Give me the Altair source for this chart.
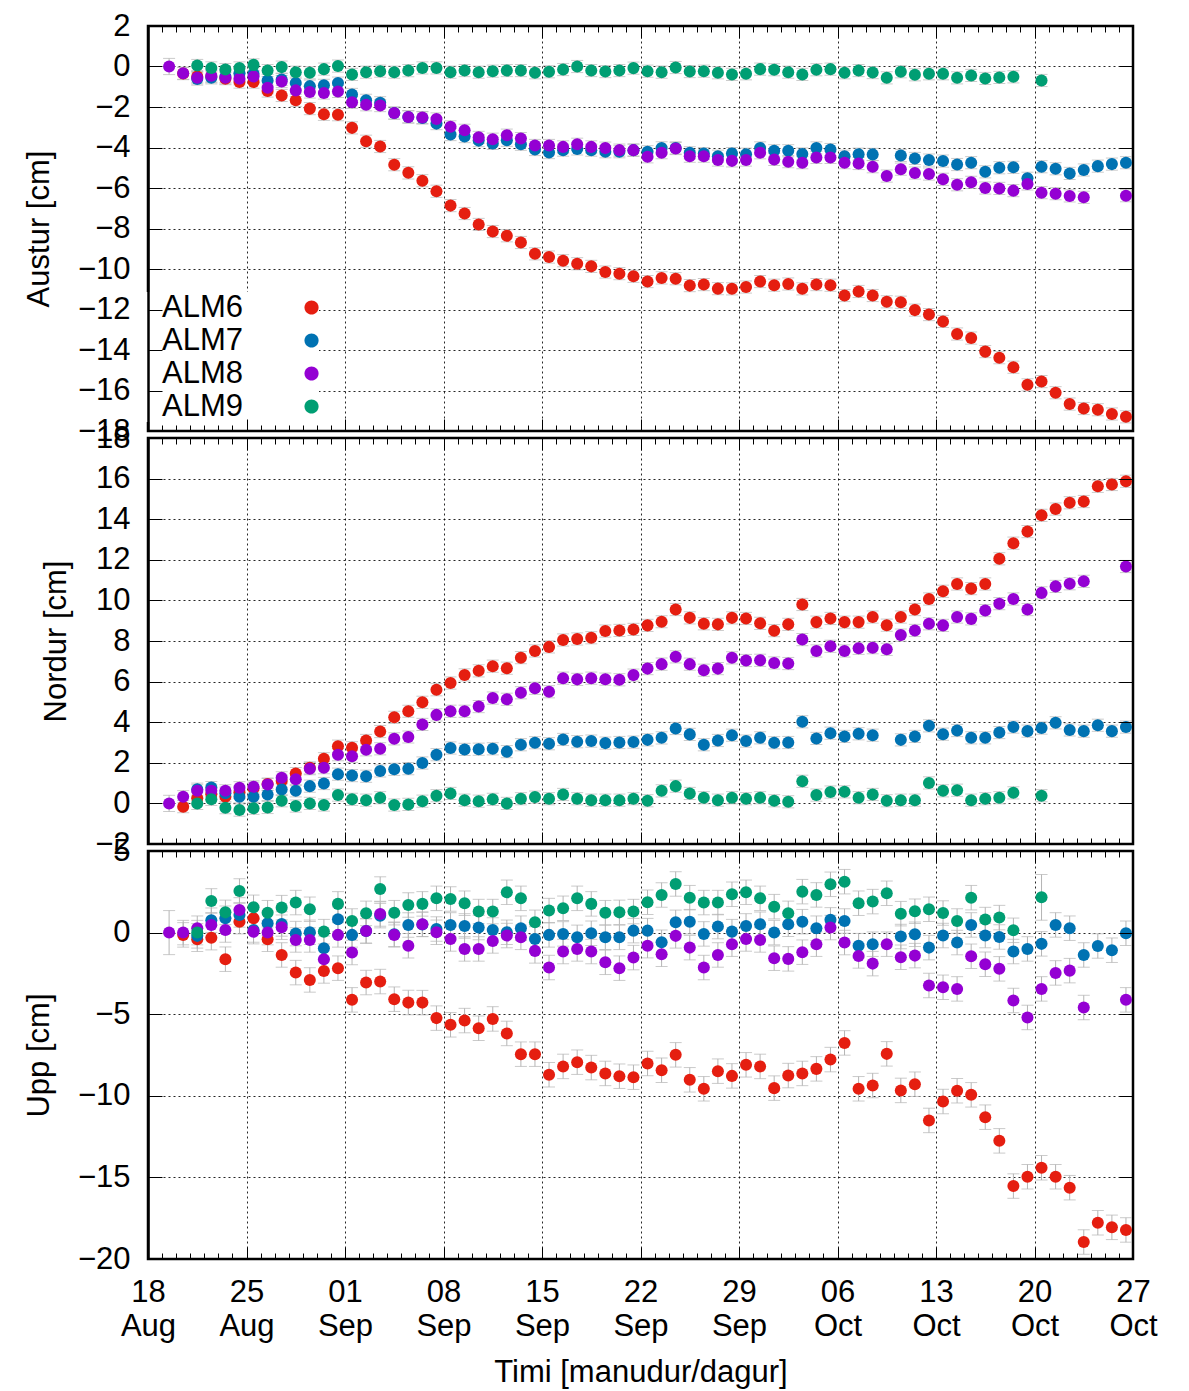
import altair as alt
import pandas as pd

# ---------------- data ----------------
YEAR = 2021
DAYS = [d.strftime("%Y-%m-%dT%H:%M:%SZ")
        for d in pd.date_range("2021-08-19 12:00", periods=69, freq="D")]

STATIONS = ["ALM6", "ALM7", "ALM8", "ALM9"]
COLORS = ["#e51e10", "#0072b2", "#9400d3", "#009e73"]
N = None

# Austur (east) [cm]
ALM6_EAST = [N, -0.35, -0.5, -0.5, -0.6, -0.77, -0.77, -1.21, -1.43, -1.67, -2.08, -2.36, -2.38, -3.03,
             -3.69, -3.95, -4.85, -5.25, -5.64, -6.16, -6.87, -7.26, -7.8, -8.15, -8.36, -8.69, -9.25,
             -9.41, -9.59, -9.74, -9.87, -10.15, -10.23, -10.36, -10.62, -10.44, -10.48, -10.82, -10.77,
             -10.97, -10.98, -10.89, -10.62, -10.8, -10.74, -10.98, -10.77, -10.8, -11.31, -11.11, -11.31,
             -11.62, -11.64, -12.03, -12.25, -12.59, -13.21, -13.41, -14.08, -14.38, -14.85, -15.72,
             -15.56, -16.11, -16.67, -16.89, -16.95, -17.16, -17.3]
ALM7_EAST = [N, N, -0.62, -0.56, -0.5, -0.33, -0.36, -0.69, -0.64, -0.82, -0.97, -0.93, -0.82, -1.38,
             -1.67, -1.79, -2.3, -2.49, -2.54, -2.82, -3.36, -3.46, -3.66, -3.8, -3.64, -3.84, -4.1,
             -4.25, -4.13, -4.07, -4.13, -4.21, -4.21, -4.13, -4.21, -4.02, -4.02, -4.26, -4.3, -4.43,
             -4.3, -4.33, -4.02, -4.16, -4.16, -4.32, -4.02, -4.1, -4.43, -4.33, -4.34, N, -4.39, -4.54,
             -4.62, -4.67, -4.84, -4.75, -5.2, -5.0, -4.98, -5.52, -4.95, -5.05, -5.28, -5.11, -4.92,
             -4.82, -4.75]
ALM8_EAST = [0.0, -0.33, -0.56, -0.46, -0.56, -0.61, -0.49, -1.05, -0.74, -1.18, -1.26, -1.31, -1.23,
             -1.77, -1.89, -1.93, -2.3, -2.49, -2.52, -2.59, -2.98, -3.15, -3.5, -3.59, -3.39, -3.56,
             -3.9, -3.9, -3.97, -3.84, -3.97, -4.03, -4.13, -4.13, -4.46, -4.26, -4.05, -4.43, -4.43,
             -4.62, -4.66, -4.62, -4.26, -4.59, -4.7, -4.75, -4.49, -4.49, -4.75, -4.79, -4.95, -5.41,
             -5.07, -5.26, -5.31, -5.57, -5.84, -5.72, -6.0, -6.02, -6.13, -5.8, -6.23, -6.28, -6.39,
             -6.46, N, N, -6.38]
ALM9_EAST = [N, N, 0.05, -0.07, -0.15, -0.07, 0.08, -0.2, -0.03, -0.28, -0.31, -0.13, 0.02, -0.39,
             -0.28, -0.23, -0.28, -0.2, -0.07, -0.07, -0.28, -0.2, -0.28, -0.23, -0.2, -0.2, -0.31,
             -0.26, -0.15, 0.0, -0.2, -0.25, -0.2, -0.08, -0.23, -0.28, -0.05, -0.25, -0.23, -0.31,
             -0.39, -0.36, -0.13, -0.16, -0.28, -0.39, -0.16, -0.13, -0.31, -0.2, -0.3, -0.56, -0.26,
             -0.41, -0.36, -0.36, -0.56, -0.44, -0.59, -0.54, -0.51, N, -0.69, N, N, N, N, N, N]

# Nordur (north) [cm]
ALM6_NORTH = [N, -0.16, 0.25, 0.45, 0.33, 0.55, 0.75, 0.95, 1.1, 1.47, 1.75, 2.2, 2.82, 2.74, 3.1,
              3.54, 4.24, 4.54, 4.98, 5.6, 5.93, 6.33, 6.53, 6.76, 6.66, 7.18, 7.51, 7.71, 8.05, 8.1,
              8.16, 8.49, 8.52, 8.57, 8.77, 8.95, 9.55, 9.14, 8.85, 8.82, 9.14, 9.11, 8.87, 8.51, 8.82,
              9.8, 8.93, 9.11, 8.93, 8.93, 9.18, 8.78, 9.18, 9.55, 10.07, 10.45, 10.81, 10.58, 10.81,
              12.05, 12.82, 13.39, 14.19, 14.5, 14.81, 14.87, 15.62, 15.71, 15.87]
ALM7_NORTH = [N, N, 0.7, 0.78, 0.5, 0.33, 0.33, 0.44, 0.69, 0.62, 0.85, 0.98, 1.44, 1.37, 1.34, 1.6,
              1.68, 1.71, 1.99, 2.4, 2.73, 2.66, 2.67, 2.69, 2.55, 2.89, 2.99, 2.94, 3.15, 3.04, 3.07,
              2.97, 3.0, 3.02, 3.13, 3.23, 3.69, 3.4, 2.89, 3.1, 3.36, 3.07, 3.23, 2.99, 3.0, 4.02, 3.2,
              3.46, 3.3, 3.43, 3.36, N, 3.13, 3.3, 3.82, 3.41, 3.59, 3.23, 3.23, 3.49, 3.76, 3.56, 3.71,
              3.97, 3.62, 3.56, 3.85, 3.56, 3.76]
ALM8_NORTH = [0.0, 0.33, 0.62, 0.62, 0.62, 0.77, 0.82, 0.93, 1.26, 1.19, 1.71, 1.76, 2.4, 2.32, 2.64,
              2.69, 3.18, 3.27, 3.89, 4.36, 4.54, 4.54, 4.77, 5.19, 5.13, 5.45, 5.67, 5.5, 6.17, 6.11,
              6.17, 6.12, 6.09, 6.32, 6.64, 6.86, 7.22, 6.86, 6.56, 6.64, 7.17, 7.04, 7.05, 6.92, 6.89,
              8.07, 7.51, 7.74, 7.51, 7.64, 7.67, 7.59, 8.29, 8.52, 8.85, 8.77, 9.18, 9.09, 9.5, 9.84,
              10.07, 9.55, 10.37, 10.69, 10.82, 10.94, N, N, 11.67]
ALM9_NORTH = [N, N, 0.0, 0.2, -0.21, -0.33, -0.24, -0.2, 0.13, -0.13, 0.0, -0.08, 0.41, 0.2, 0.16,
              0.28, -0.08, -0.05, 0.11, 0.38, 0.49, 0.16, 0.11, 0.2, 0.0, 0.23, 0.31, 0.23, 0.44, 0.23,
              0.16, 0.16, 0.16, 0.23, 0.13, 0.62, 0.85, 0.49, 0.28, 0.16, 0.28, 0.23, 0.28, 0.13, 0.08,
              1.09, 0.41, 0.56, 0.57, 0.28, 0.44, 0.13, 0.16, 0.16, 1.01, 0.62, 0.65, 0.16, 0.23, 0.28,
              0.52, N, 0.38, N, N, N, N, N, N]

# Upp (up) [cm]
ALM6_UP = [N, -0.14, -0.41, -0.31, -1.63, 0.67, 0.88, -0.41, -1.37, -2.45, -2.9, -2.35, -2.18, -4.12,
           -3.06, -3.0, -4.08, -4.29, -4.29, -5.24, -5.65, -5.39, -5.86, -5.29, -6.18, -7.45, -7.45,
           -8.71, -8.2, -7.94, -8.27, -8.63, -8.8, -8.86, -8.02, -8.43, -7.49, -9.02, -9.57, -8.49,
           -8.78, -8.1, -8.2, -9.53, -8.76, -8.63, -8.35, -7.78, -6.76, -9.57, -9.37, -7.43, -9.67,
           -9.29, -11.51, -10.35, -9.69, -9.94, -11.31, -12.76, -15.53, -14.96, -14.41, -14.96,
           -15.63, -18.96, -17.78, -18.06, -18.22]
ALM7_UP = [N, N, -0.2, 0.76, 0.88, 1.08, 0.16, 0.57, 0.53, -0.06, 0.02, -0.96, 0.82, -0.14, 0.1, 1.04,
           -0.1, 0.47, 0.5, 0.22, 0.47, 0.41, 0.31, 0.16, 0.02, 0.27, -0.39, -0.14, -0.08, -0.29, -0.04,
           -0.29, -0.29, 0.12, 0.12, -0.59, 0.63, 0.67, -0.08, 0.37, 0.06, 0.41, 0.51, 0.0, 0.51, 0.67,
           0.27, 0.78, 0.71, -0.8, -0.71, N, -0.24, -0.1, -0.92, -0.18, -0.61, 0.47, -0.18, -0.27,
           -1.16, -1.0, -0.69, 0.47, 0.27, -1.37, -0.82, -1.08, -0.04]
ALM8_UP = [0.0, 0.0, 0.27, 0.47, 0.16, 1.39, 0.06, 0.0, 0.33, -0.45, -0.45, -1.63, -0.14, -1.22, 0.1,
           1.14, -0.14, -0.8, 0.51, 0.02, -0.39, -1.0, -1.0, -0.51, -0.18, -0.29, -1.12, -2.14, -1.16,
           -1.0, -1.16, -1.82, -2.18, -1.53, -0.8, -1.33, -0.2, -0.92, -2.14, -1.37, -0.71, -0.39,
           -0.45, -1.57, -1.61, -1.2, -0.71, 0.31, -0.61, -1.43, -1.9, -0.71, -1.51, -1.41, -3.24,
           -3.35, -3.45, -1.45, -1.94, -2.22, -4.16, -5.2, -3.45, -2.47, -2.33, -4.59, N, N, -4.12]
ALM9_UP = [N, N, 0.0, 1.94, 1.24, 2.55, 1.55, 1.22, 1.53, 1.84, 1.43, 0.06, 1.76, 0.71, 1.18, 2.67,
           1.22, 1.69, 1.76, 2.1, 2.06, 1.8, 1.29, 1.29, 2.47, 2.1, 0.63, 1.35, 1.49, 2.1, 1.76, 1.22,
           1.24, 1.29, 1.86, 2.31, 2.98, 2.14, 1.84, 1.84, 2.35, 2.47, 2.1, 1.59, 1.18, 2.51, 2.31,
           2.96, 3.12, 1.8, 1.9, 2.41, 1.16, 1.31, 1.43, 1.2, 0.71, 2.14, 0.8, 0.92, 0.14, N, 2.16,
           N, N, N, N, N, N]

# one-sigma error estimates [cm]
ERR_EAST = 0.3
ERR_NORTH = 0.3
ERR_UP = 0.75
ERR_EXTRA_EAST = {("ALM8", 0): 0.4}
ERR_EXTRA_NORTH = {("ALM8", 0): 0.4}
ERR_EXTRA_UP = {("ALM8", 0): 1.35, ("ALM9", 62): 1.4}


def long_frame(series, err, extra):
    rows = []
    for st, vals in zip(STATIONS, series):
        for i, (d, v) in enumerate(zip(DAYS, vals)):
            if v is None:
                continue
            e = extra.get((st, i), err)
            rows.append({"date": d, "station": st, "value": v, "lo": v - e, "hi": v + e})
    return pd.DataFrame(rows)


df_e = long_frame([ALM6_EAST, ALM7_EAST, ALM8_EAST, ALM9_EAST], ERR_EAST, ERR_EXTRA_EAST)
df_n = long_frame([ALM6_NORTH, ALM7_NORTH, ALM8_NORTH, ALM9_NORTH], ERR_NORTH, ERR_EXTRA_NORTH)
df_u = long_frame([ALM6_UP, ALM7_UP, ALM8_UP, ALM9_UP], ERR_UP, ERR_EXTRA_UP)

# ---------------- style ----------------
FONT = "Liberation Sans"
FS = 31
W = 985
GRID_DASH = [2, 3]
ERR_COLOR = "#b4b4b4"
# legend marker: a circle drawn to the right of its label (unit coords, scaled by the symbol size)
LEGEND_SYMBOL = "M 25.8,0 A 1.15,1.15 0 1,0 28.1,0 A 1.15,1.15 0 1,0 25.8,0 Z"


def dt(m, d):
    return alt.DateTime(year=YEAR, month=m, date=d, utc=True)


MAJOR = [dt(8, 18), dt(8, 25), dt(9, 1), dt(9, 8), dt(9, 15), dt(9, 22), dt(9, 29),
         dt(10, 6), dt(10, 13), dt(10, 20), dt(10, 27)]
MINOR = [dt(d.month, d.day) for d in pd.date_range("2021-08-18", "2021-10-27", freq="D")]
X_SCALE = alt.Scale(type="utc", domain=[dt(8, 18), dt(10, 27)])


def tick_axis(orient, values, size):
    return alt.Axis(orient=orient, values=values, offset=-size, tickSize=size, ticks=True,
                    labels=False, domain=False, grid=False, title=None,
                    tickColor="black", tickWidth=1, zindex=2)


def make_panel(df, title, ymin, ymax, ystep, height, bottom, legend):
    ys = alt.Scale(domain=[ymin, ymax], nice=False, zero=False)
    yvals = list(range(ymin, ymax + 1, ystep))
    base = alt.Chart(df)

    x_main = alt.Axis(
        orient="bottom", values=MAJOR, grid=True, gridDash=GRID_DASH, gridColor="black",
        gridOpacity=0.85, ticks=False, domain=False, labels=bottom, labelOverlap=False,
        labelFlush=False,
        labelExpr="[utcFormat(datum.value, '%d'), utcFormat(datum.value, '%b')]",
        labelPadding=18, labelLineHeight=34,
        title="Timi [manudur/dagur]" if bottom else None, titlePadding=16,
    )
    y_main = alt.Axis(
        orient="left", values=yvals, grid=True, gridDash=GRID_DASH, gridColor="black",
        gridOpacity=0.85, ticks=False, domain=False, labelPadding=18, title=title,
        titlePadding=22, labelOverlap=False,
    )
    # plot-frame left edge drawn above the legend box
    y_edge = alt.Axis(orient="left", domain=True, domainColor="black", domainWidth=2.5,
                      ticks=False, labels=False, grid=False, title=None, zindex=2)

    rules = base.mark_rule(color=ERR_COLOR, strokeWidth=1).encode(
        x=alt.X("date:T", scale=X_SCALE, axis=x_main),
        y=alt.Y("lo:Q", scale=ys, axis=y_main),
        y2="hi:Q",
    )
    caps_lo = base.mark_tick(orient="horizontal", size=12, thickness=1, color=ERR_COLOR).encode(
        x=alt.X("date:T", scale=X_SCALE, axis=tick_axis("bottom", MAJOR, 12)),
        y=alt.Y("lo:Q", scale=ys, axis=tick_axis("left", yvals, 14)),
    )
    caps_hi = base.mark_tick(orient="horizontal", size=12, thickness=1, color=ERR_COLOR).encode(
        x=alt.X("date:T", scale=X_SCALE, axis=tick_axis("top", MAJOR, 12)),
        y=alt.Y("hi:Q", scale=ys, axis=tick_axis("right", yvals, 14)),
    )
    color = alt.Color("station:N", scale=alt.Scale(domain=STATIONS, range=COLORS), legend=legend)
    pts = base.mark_circle(size=145, opacity=1).encode(
        x=alt.X("date:T", scale=X_SCALE, axis=tick_axis("bottom", MINOR, 6)),
        y=alt.Y("value:Q", scale=ys, axis=None),
        color=color,
    )
    ghost = base.mark_circle(size=1, opacity=0).encode(
        x=alt.X("date:T", scale=X_SCALE, axis=tick_axis("top", MINOR, 6)),
        y=alt.Y("value:Q", scale=ys, axis=y_edge),
    )
    return alt.layer(rules, caps_lo, caps_hi, pts, ghost).resolve_axis(
        x="independent", y="independent").properties(width=W, height=height)


legend = alt.Legend(
    orient="none", legendX=-17, legendY=266, title=None, labelFontSize=FS, labelFont=FONT,
    labelColor="black", symbolType=LEGEND_SYMBOL, symbolSize=150, labelOffset=0,
    fillColor="white", padding=0, rowPadding=1, symbolStrokeWidth=0, zindex=1,
)

p1 = make_panel(df_e, "Austur [cm]", -18, 2, 2, 405, False, legend)
p2 = make_panel(df_n, "Nordur [cm]", -2, 18, 2, 406, False, None)
p3 = make_panel(df_u, "Upp [cm]", -20, 5, 5, 408, True, None)

chart = (
    alt.vconcat(p1, p2, p3, spacing=7, bounds="flush")
    .resolve_legend(color="independent")
    .properties(padding={"left": 14, "top": 0, "right": 5, "bottom": 0}, background="white")
    .configure_view(stroke="black", strokeWidth=2.5)
    .configure_axis(labelFont=FONT, titleFont=FONT, labelFontSize=FS, titleFontSize=FS,
                    titleFontWeight="normal", labelColor="black", titleColor="black")
)

chart.save("out.html", embed_options={"renderer": "svg", "actions": False})
